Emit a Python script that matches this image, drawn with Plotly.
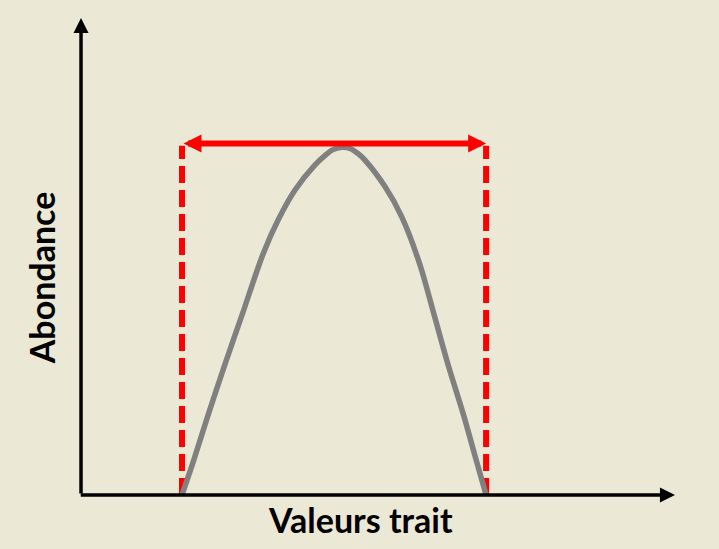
import plotly.graph_objects as go

# Curve of abundance along trait values
trait_values = [17.0, 18.9, 21.4, 24.2, 27.1, 30.7, 33.2, 36.0, 39.4, 41.1, 42.4, 43.9,
                45.4, 46.6, 47.8, 51.2, 54.0, 57.0, 59.6, 61.8, 64.4, 66.6, 68.2]
abundance_values = [0.0, 7.0, 16.8, 27.3, 37.7, 50.7, 57.7, 63.9, 69.2, 71.2, 72.4, 72.9,
                    72.6, 71.6, 70.2, 64.6, 58.3, 48.5, 37.1, 27.3, 16.8, 7.0, 0.0]

niche_bounds = [17.0, 68.2]      # trait range (red dashed limits)
niche_level = 73.7               # height of the red double arrow
axis_max = [100.0, 100.0]        # x and y axis arrow ends

x_title = "Valeurs trait"
y_title = "Abondance"

BG = "#EBE8D6"
RED = "#FF0000"

fig = go.Figure()

# red dashed vertical limits
for xb in niche_bounds:
    fig.add_trace(go.Scatter(x=[xb, xb], y=[0, niche_level - 0.5], mode="lines",
                             line=dict(color=RED, width=6, dash="17px,7px"),
                             hoverinfo="skip", showlegend=False))

# grey curve
fig.add_trace(go.Scatter(x=trait_values, y=abundance_values, mode="lines",
                         line=dict(color="#808080", width=5.5, shape="spline", smoothing=0.9),
                         hoverinfo="skip", showlegend=False))

annotations = [
    # y axis arrow
    dict(x=0, y=axis_max[1], ax=0, ay=0, xref="x", yref="y", axref="x", ayref="y",
         text="", showarrow=True, arrowhead=2, arrowwidth=3.5, arrowsize=0.86,
         arrowcolor="black", standoff=0),
    # x axis arrow
    dict(x=axis_max[0], y=0, ax=-0.3, ay=0, xref="x", yref="y", axref="x", ayref="y",
         text="", showarrow=True, arrowhead=2, arrowwidth=3.5, arrowsize=0.86,
         arrowcolor="black", standoff=0),
    # red double arrow
    dict(x=niche_bounds[1], y=niche_level, ax=niche_bounds[0], ay=niche_level,
         xref="x", yref="y", axref="x", ayref="y",
         text="", showarrow=True, arrowhead=2, arrowwidth=6, arrowsize=0.6,
         arrowside="end+start", startarrowhead=2, startarrowsize=0.6,
         arrowcolor=RED, standoff=0, startstandoff=0),
    dict(x=0.502, y=0.053, xref="paper", yref="paper", text=x_title, showarrow=False,
         font=dict(family="Lato", size=34, color="black", weight="bold"),
         xanchor="center", yanchor="middle"),
    dict(x=0.057, y=0.495, xref="paper", yref="paper", text=y_title, showarrow=False,
         textangle=-90,
         font=dict(family="Lato", size=34, color="black", weight="bold"),
         xanchor="center", yanchor="middle"),
]

fig.update_layout(
    width=719, height=549,
    margin=dict(l=0, r=0, t=0, b=0),
    paper_bgcolor=BG, plot_bgcolor=BG,
    xaxis=dict(range=[-13.64, 107.41], visible=False, fixedrange=True),
    yaxis=dict(range=[-11.32, 103.77], visible=False, fixedrange=True),
    annotations=annotations,
    showlegend=False,
)

fig.write_html("out.html",
               post_script="document.body.style.margin='0';document.body.style.background='%s';" % BG,
               config={"displayModeBar": False})
